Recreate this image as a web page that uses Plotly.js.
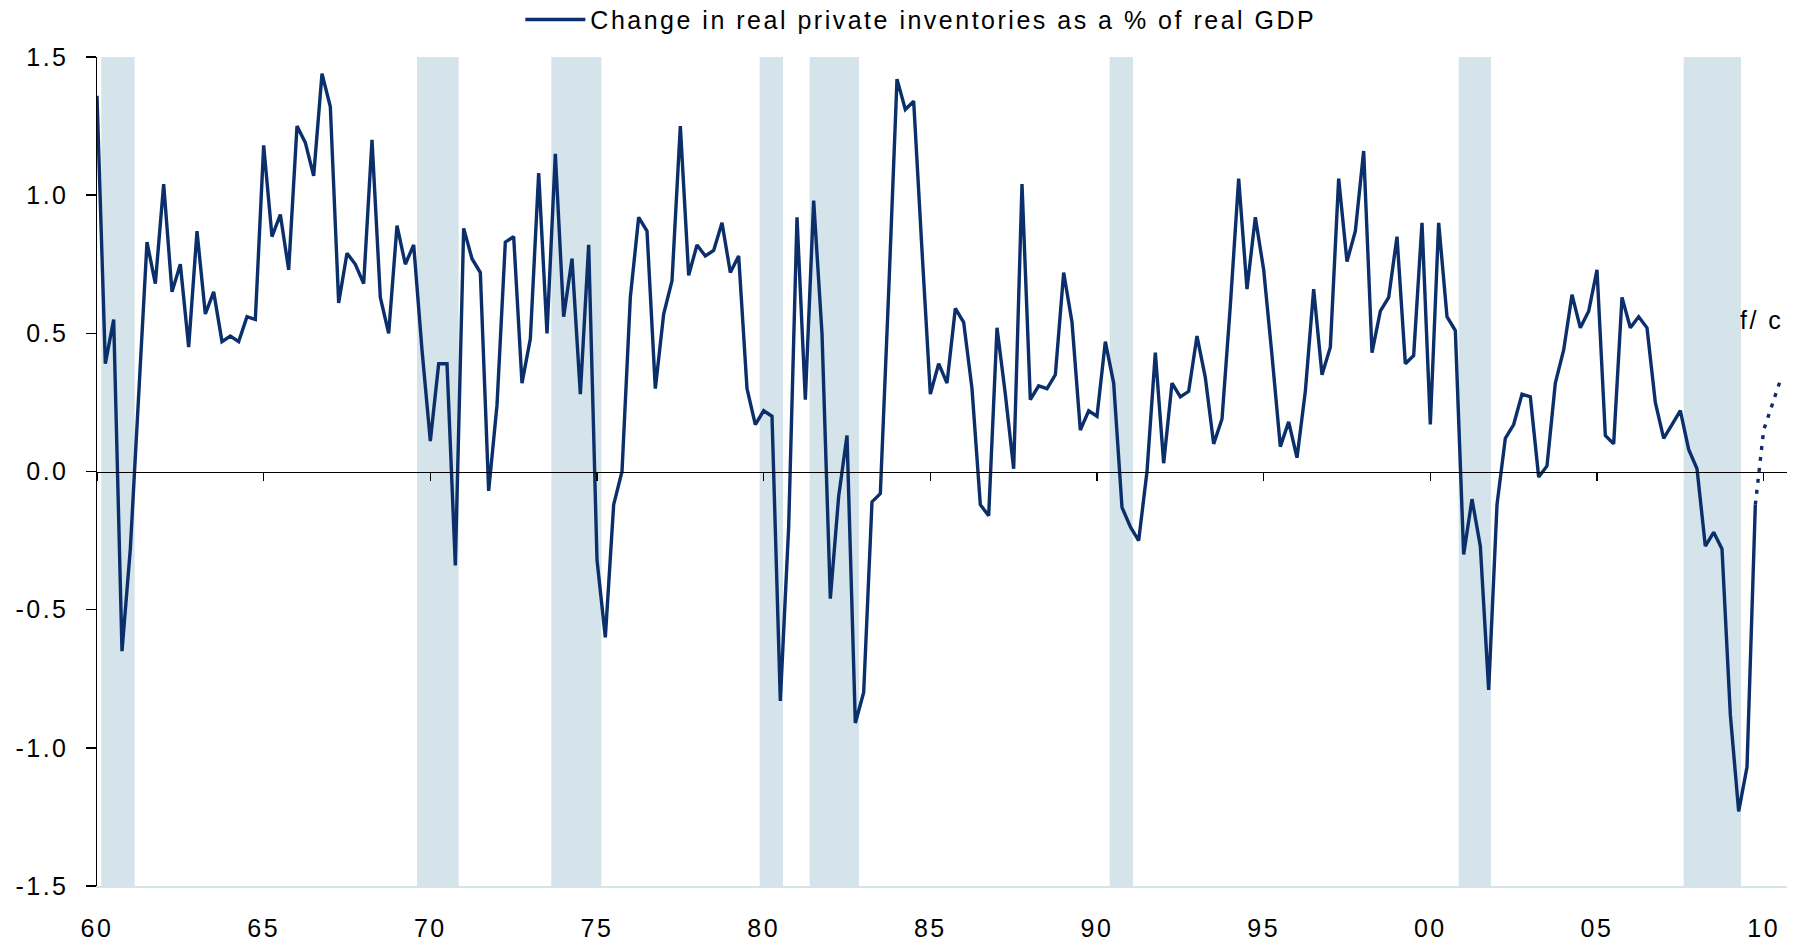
<!DOCTYPE html>
<html>
<head>
<meta charset="utf-8">
<script src="https://cdn.plot.ly/plotly-3.0.1.min.js"></script>
<style>
  html, body { margin: 0; padding: 0; background: #fff; }
  #chart { width: 1798px; height: 950px; }
  .legendtext, .xtick text, .ytick text, .annotation-text { letter-spacing: 2.5px; }
</style>
</head>
<body>
<div id="chart"></div>
<script>
// ---- Data (quarterly, first observation = 1960 Q1) ----
const startYear = 1960;
const seriesName = 'Change in real private inventories as a % of real GDP';
const inventoryPctGDP = [
  1.36, 0.39, 0.55, -0.65, -0.28, 0.25, 0.83, 0.68, 1.04, 0.65,
  0.75, 0.45, 0.87, 0.57, 0.65, 0.47, 0.49, 0.47, 0.56, 0.55,
  1.18, 0.85, 0.93, 0.73, 1.25, 1.19, 1.07, 1.44, 1.32, 0.61,
  0.79, 0.75, 0.68, 1.20, 0.63, 0.50, 0.89, 0.75, 0.82, 0.44,
  0.11, 0.39, 0.39, -0.34, 0.88, 0.77, 0.72, -0.07, 0.24, 0.83,
  0.85, 0.32, 0.48, 1.08, 0.50, 1.15, 0.56, 0.77, 0.28, 0.82,
  -0.32, -0.60, -0.12, 0.00, 0.63, 0.92, 0.87, 0.30, 0.57, 0.69,
  1.25, 0.71, 0.82, 0.78, 0.80, 0.90, 0.72, 0.78, 0.30, 0.17,
  0.22, 0.20, -0.83, -0.20, 0.92, 0.26, 0.98, 0.50, -0.46, -0.09,
  0.13, -0.91, -0.80, -0.11, -0.08, 0.65, 1.42, 1.31, 1.34, 0.80,
  0.28, 0.39, 0.32, 0.59, 0.54, 0.30, -0.12, -0.16, 0.52, 0.28,
  0.01, 1.04, 0.26, 0.31, 0.30, 0.35, 0.72, 0.54, 0.15, 0.22,
  0.20, 0.47, 0.32, -0.13, -0.20, -0.25, 0.00, 0.43, 0.03, 0.32,
  0.27, 0.29, 0.49, 0.34, 0.10, 0.19, 0.60, 1.06, 0.66, 0.92,
  0.73, 0.42, 0.09, 0.18, 0.05, 0.29, 0.66, 0.35, 0.45, 1.06,
  0.76, 0.87, 1.16, 0.43, 0.58, 0.63, 0.85, 0.39, 0.42, 0.90,
  0.17, 0.90, 0.56, 0.51, -0.30, -0.10, -0.27, -0.79, -0.12, 0.12,
  0.17, 0.28, 0.27, -0.02, 0.02, 0.32, 0.44, 0.64, 0.52, 0.58,
  0.73, 0.13, 0.10, 0.63, 0.52, 0.56, 0.52, 0.25, 0.12, 0.17,
  0.22, 0.08, 0.01, -0.27, -0.22, -0.28, -0.88, -1.23, -1.07, -0.12
];
// forecast continues from the last actual quarter
const forecastValues = [-0.12, 0.15, 0.24, 0.33];
const forecastLabel = 'f/ c';

// recession periods (decimal years)
const recessionStart = [1960.13, 1969.60, 1973.63, 1979.88, 1981.38, 1990.38, 2000.85, 2007.60];
const recessionEnd   = [1961.13, 1970.85, 1975.13, 1980.58, 1982.86, 1991.08, 2001.82, 2009.32];

// axis ticks
const xTickVals = [1960, 1965, 1970, 1975, 1980, 1985, 1990, 1995, 2000, 2005, 2010];
const xTickText = ['60', '65', '70', '75', '80', '85', '90', '95', '00', '05', '10'];
const yTickVals = [-1.5, -1.0, -0.5, 0.0, 0.5, 1.0, 1.5];
const yTickText = ['-1.5', '-1.0', '-0.5', '0.0', '0.5', '1.0', '1.5'];

// ---- Build ----
const quarterX = (i) => startYear + i / 4;
const xActual = inventoryPctGDP.map((_, i) => quarterX(i));
const fcStart = inventoryPctGDP.length - 1;
const xForecast = forecastValues.map((_, k) => quarterX(fcStart + k));

const navy = '#0b2f6a';
const bandColor = '#d5e3eb';
const fontFam = '"Liberation Sans", Arial, sans-serif';
const xRange = [1960, 2010.7];

const traces = [
  { x: xActual, y: inventoryPctGDP, type: 'scatter', mode: 'lines', name: seriesName,
    line: { color: navy, width: 3.4 }, xaxis: 'x', yaxis: 'y', hoverinfo: 'x+y' },
  { x: xForecast, y: forecastValues, type: 'scatter', mode: 'lines', name: 'forecast',
    showlegend: false, line: { color: navy, width: 3.4, dash: '4px,7px' }, xaxis: 'x2', yaxis: 'y' }
];

const shapes = recessionStart.map((s, k) => ({
  type: 'rect', xref: 'x', yref: 'y', x0: s, x1: recessionEnd[k], y0: -1.5, y1: 1.5,
  fillcolor: bandColor, line: { width: 0 }, layer: 'below'
}));

const layout = {
  width: 1798, height: 950,
  margin: { l: 97, r: 11, t: 57, b: 64, pad: 0, autoexpand: false },
  paper_bgcolor: '#fff', plot_bgcolor: 'rgba(0,0,0,0)',
  font: { family: fontFam, size: 25, color: '#000' },
  showlegend: true,
  legend: { orientation: 'h', x: 0.2505, xanchor: 'left', y: 1.045, yanchor: 'middle',
    itemwidth: 60, font: { family: fontFam, size: 25, color: '#000' }, bgcolor: 'rgba(0,0,0,0)' },
  xaxis: { range: xRange, tickmode: 'array', tickvals: xTickVals, ticktext: xTickText,
    ticks: '', showgrid: false, zeroline: false, showline: true, linecolor: bandColor, linewidth: 2,
    ticklabelstandoff: 19, tickfont: { family: fontFam, size: 25, color: '#000' }, fixedrange: true },
  xaxis2: { range: xRange, overlaying: 'x', anchor: 'free', position: 0.5, tickmode: 'array',
    tickvals: xTickVals, showticklabels: false, ticks: 'outside', ticklen: 8, tickwidth: 1.5,
    tickcolor: '#000', showline: true, linecolor: '#000', linewidth: 1.5, showgrid: false, zeroline: false },
  yaxis: { range: [-1.5, 1.5], tickmode: 'array', tickvals: yTickVals, ticktext: yTickText,
    ticks: 'outside', ticklen: 10, tickwidth: 1.5, tickcolor: '#000', showline: true, linecolor: '#000',
    linewidth: 1.5, showgrid: false, zeroline: false, ticklabelstandoff: 12,
    tickfont: { family: fontFam, size: 25, color: '#000' } },
  shapes: shapes,
  annotations: [{ x: 2009.93, y: 0.55, xref: 'x', yref: 'y', text: forecastLabel, showarrow: false,
    font: { family: fontFam, size: 25, color: '#000' }, xanchor: 'center', yanchor: 'middle' }]
};

Plotly.newPlot('chart', traces, layout, { displayModeBar: false, staticPlot: true });
</script>
</body>
</html>
